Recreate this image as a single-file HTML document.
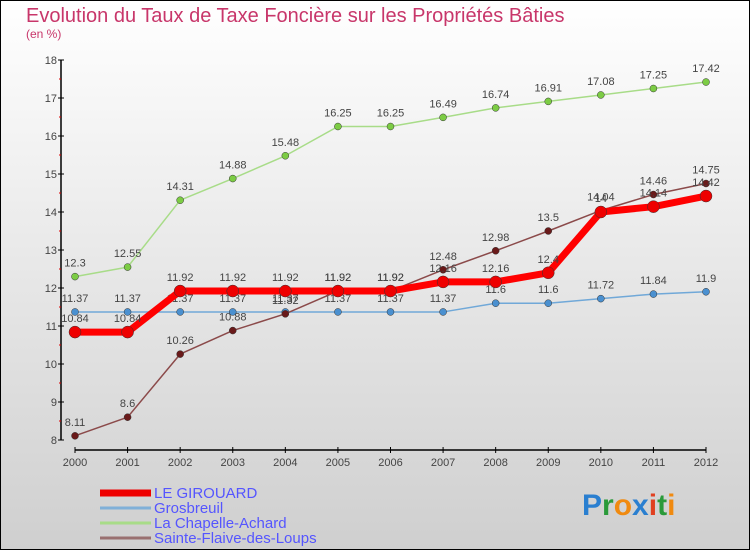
<!DOCTYPE html>
<html><head><meta charset="utf-8"><style>
body{margin:0;width:750px;height:550px;overflow:hidden;font-family:"Liberation Sans",sans-serif}
</style></head><body>
<svg width="750" height="550" xmlns="http://www.w3.org/2000/svg">
<defs><linearGradient id="bg" x1="0" y1="0" x2="0" y2="1"><stop offset="0" stop-color="#ffffff"/><stop offset="1" stop-color="#cfcfcf"/></linearGradient></defs>
<rect x="0.5" y="0.5" width="749" height="549" fill="url(#bg)" stroke="#000"/>
<text x="26" y="22" font-size="20" fill="#c8366a">Evolution du Taux de Taxe Foncière sur les Propriétés Bâties</text>
<text x="26" y="38" font-size="12" fill="#c8366a">(en %)</text>
<g id="axes"></g><g id="series"></g><g id="legend"></g>
<text x="582" y="515" font-size="30" font-weight="bold"><tspan fill="#2a7fd0">P</tspan><tspan fill="#2a9a3a">r</tspan><tspan fill="#f08a10">o</tspan><tspan fill="#2a7fd0">x</tspan><tspan fill="#e04020">i</tspan><tspan fill="#2a9a3a">t</tspan><tspan fill="#f08a10">i</tspan></text>
</svg>
<script>
const years=[2000,2001,2002,2003,2004,2005,2006,2007,2008,2009,2010,2011,2012];
const yTicks=[8,9,10,11,12,13,14,15,16,17,18];
const girouard=[10.84,10.84,11.92,11.92,11.92,11.92,11.92,12.16,12.16,12.4,14.0,14.14,14.42];
const grosbreuil=[11.37,11.37,11.37,11.37,11.37,11.37,11.37,11.37,11.6,11.6,11.72,11.84,11.9];
const chapelle=[12.3,12.55,14.31,14.88,15.48,16.25,16.25,16.49,16.74,16.91,17.08,17.25,17.42];
const sainte=[8.11,8.6,10.26,10.88,11.32,11.92,11.92,12.48,12.98,13.5,14.04,14.46,14.75];
const NS="http://www.w3.org/2000/svg";
const X=i=>75+i*(706-75)/12, Y=v=>440-(v-8)*38;
function mk(p,t,a){const e=document.createElementNS(NS,t);for(const k in a)e.setAttribute(k,a[k]);p.appendChild(e);return e;}
const ax=document.getElementById('axes');
let l=mk(ax,'line',{x1:61,y1:Y(18),x2:61,y2:Y(8),stroke:'#000','stroke-width':1.5});


l=mk(ax,'line',{x1:75,y1:450,x2:706,y2:450,stroke:'#000','stroke-width':1.5});


yTicks.forEach(v=>{mk(ax,'line',{x1:58,x2:64,y1:Y(v),y2:Y(v),stroke:'#000'});
 if(v<18)mk(ax,'line',{x1:59,x2:61,y1:Y(v+0.5),y2:Y(v+0.5),stroke:'#d00'});
 const t=mk(ax,'text',{x:57,y:Y(v)+4,'font-size':11,fill:'#444','text-anchor':'end'});t.textContent=v;
 
 });
years.forEach((yr,i)=>{mk(ax,'line',{x1:X(i),x2:X(i),y1:447,y2:453,stroke:'#000'});
 const t=mk(ax,'text',{x:X(i),y:466,'font-size':11,fill:'#444','text-anchor':'middle'});t.textContent=yr;
 
 });
const sg=document.getElementById('series');
function series(d,col,w,r,dot,name){
 const g=mk(sg,'g',{});
 
 
 mk(g,'polyline',{points:d.map((v,i)=>X(i)+','+Y(v)).join(' '),fill:'none',stroke:col,'stroke-width':w,'stroke-linejoin':'round'});
 d.forEach((v,i)=>{const c=mk(g,'circle',{cx:X(i),cy:Y(v),r:r,fill:dot,stroke:'#333','stroke-width':0.5});
  
  
  const t=mk(g,'text',{x:X(i),y:Y(v)-10,'font-size':11,fill:'#444','text-anchor':'middle'});t.textContent=v;
  
  });
}
series(chapelle,'#a8dc88',1.5,3.5,'#7ccc44','series-la-chapelle-achard');
series(grosbreuil,'#70a8d8',1.5,3.5,'#4a90d0','series-grosbreuil');
series(sainte,'#8b4a4a',1.5,3.5,'#6a1a1a','series-sainte-flaive-des-loups');
series(girouard,'#ff0000',7,6,'#ee0000','series-le-girouard');
const lg=document.getElementById('legend');
[['LE GIROUARD','#ee0000',7],['Grosbreuil','#80b0d8',3],['La Chapelle-Achard','#a8dc88',3],['Sainte-Flaive-des-Loups','#997070',3]].forEach((s,i)=>{
 const y=493+i*15;
 const g=mk(lg,'g',{});
 
 
 mk(g,'line',{x1:100,x2:151,y1:y,y2:y,stroke:s[1],'stroke-width':s[2]});
 const t=mk(g,'text',{x:154,y:y+5,'font-size':15,fill:'#5555ff'});t.textContent=s[0];
});
</script>
</body></html>
